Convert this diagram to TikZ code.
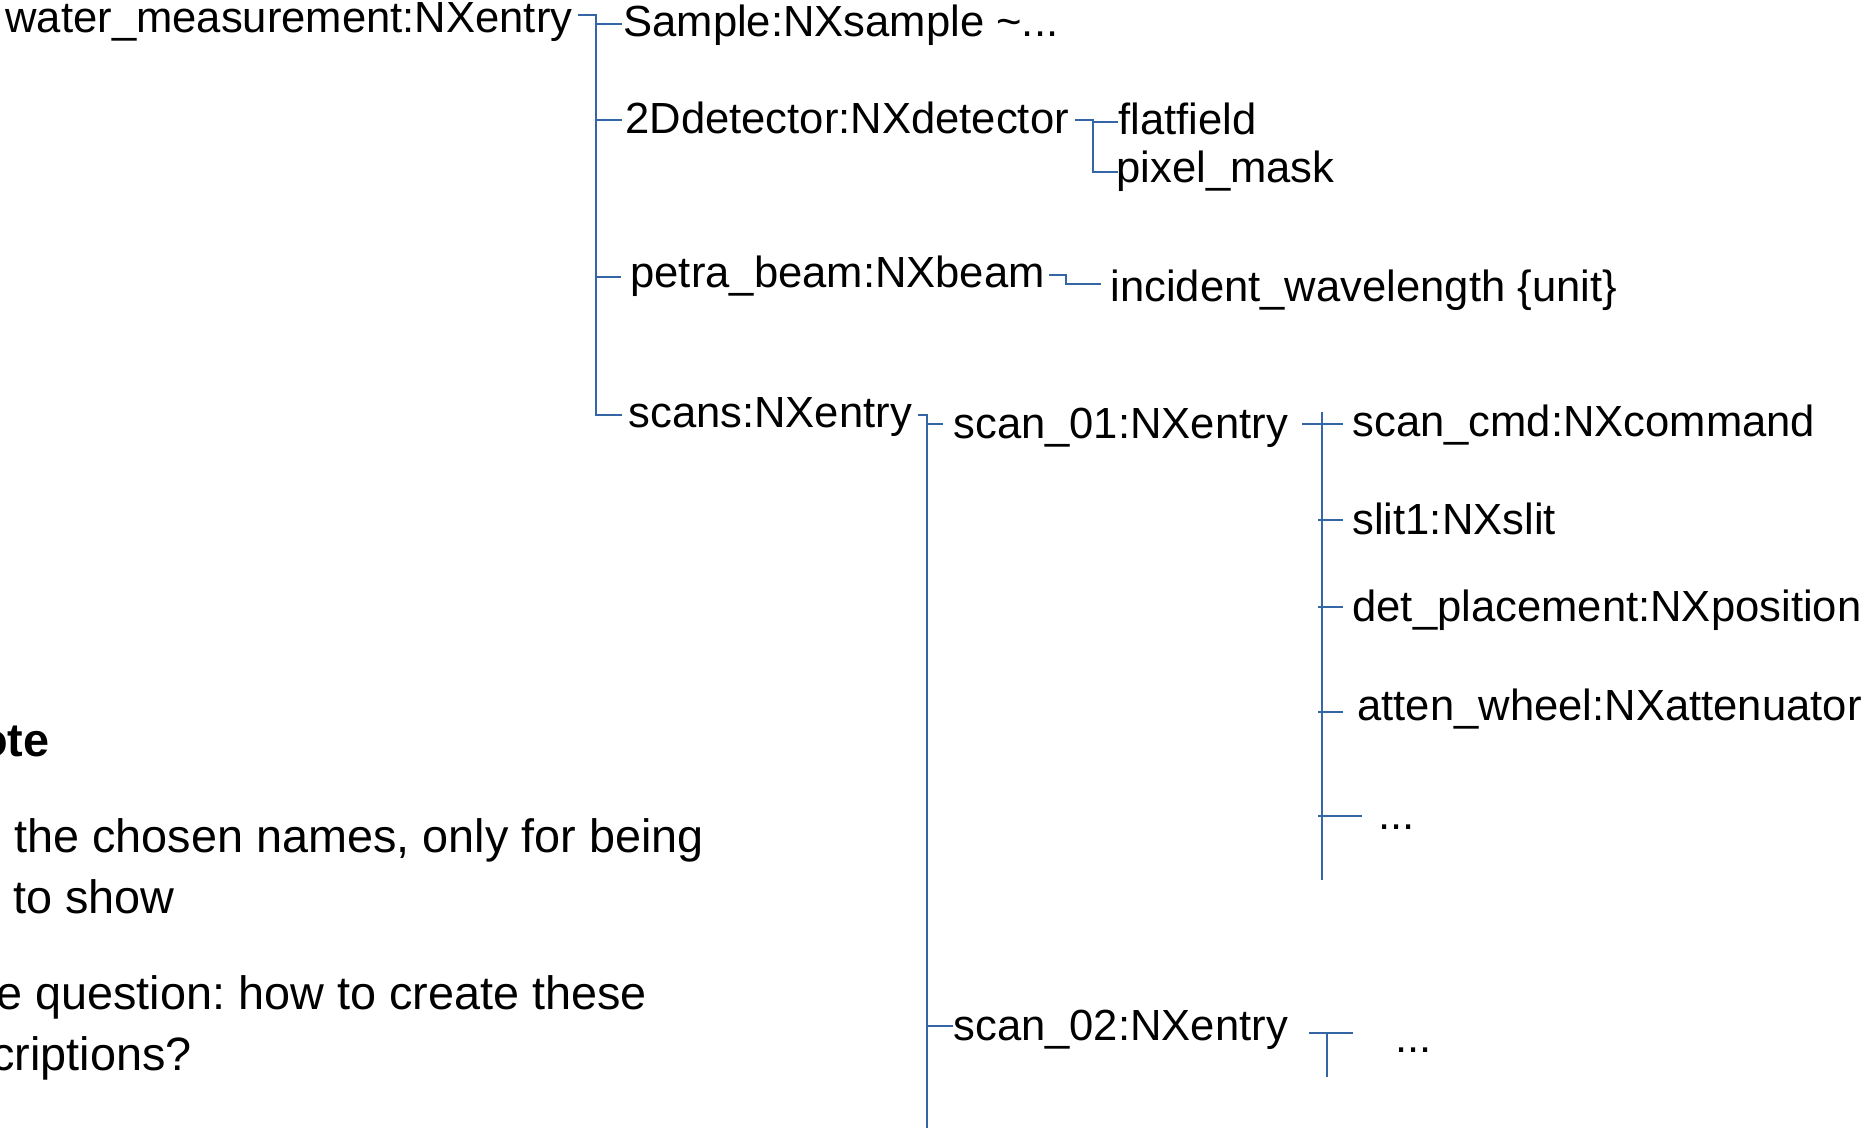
\documentclass[tikz,border=0pt]{standalone}
\usepackage{fontspec}
\setmainfont{Liberation Sans}
\usetikzlibrary{calc}
\definecolor{linkblue}{HTML}{3465A4}
\begin{document}
\frenchspacing
\begin{tikzpicture}[x=0.5pt,y=-0.5pt,
  tree/.style={inner sep=0pt, anchor=base west, font=\fontsize{21.8}{26}\selectfont},
  notetext/.style={inner sep=0pt, anchor=base west, font=\fontsize{23.4}{28}\selectfont},
  link/.style={draw=linkblue, line width=1pt}]
\useasboundingbox (0,0) rectangle (1862,1128);
\clip (0,0) rectangle (1862,1128);
\fill[white] (0,0) rectangle (1862,1128);

% ---- tree entries ----
\node[tree] (root)   at (5,33)     {water\_measurement:NXentry};
\node[tree] (sample) at (623,37)   {Sample:NXsample \textasciitilde...};
\node[tree] (det)    at (625,134)  {2Ddetector:NXdetector};
\node[tree] (flat)   at (1118,135) {flatfield};
\node[tree] (mask)   at (1116,183) {pixel\_mask};
\node[tree] (beam)   at (630,288)  {petra\_beam:NXbeam};
\node[tree] (wave)   at (1110,302) {incident\_wavelength \{unit\}};
\node[tree] (scans)  at (628,428)  {scans:NXentry};
\node[tree] (scanA)  at (953,438)  {scan\_01:NXentry};
\node[tree] (cmd)    at (1352,437) {scan\_cmd:NXcommand};
\node[tree] (slit)   at (1352,534) {slit1:NXslit};
\node[tree] (place)  at (1352,621) {det\_placement:NXposition};
\node[tree] (atten)  at (1357,720) {atten\_wheel:NXattenuator};
\node[tree] (moreA)  at (1378,829) {...};
\node[tree] (scanB)  at (953,1040) {scan\_02:NXentry};
\node[tree] (moreB)  at (1395,1052) {...};

% ---- note text ----
\node[notetext, font=\fontsize{23.4}{28}\selectfont\bfseries] (notehead) at (-21,756) {ote};
\node[notetext] (noteA) at (14,852)  {the chosen names, only for being};
\node[notetext] (noteB) at (13,913)  {to show};
\node[notetext] (noteC) at (-4,1009) {e question: how to create these};
\node[notetext] (noteD) at (-9,1070) {criptions?};

% ---- root level ----
\coordinate (rootstub) at (578,15);
\coordinate (rootbus)  at (596,15);
\coordinate (rootend)  at (596,415);
\coordinate (rb1) at (596,24);
\coordinate (rb2) at (596,120);
\coordinate (rb3) at (596,277);
\draw[link] (rootstub) -- (rootbus) -- (rootend) -- ($(rootend -| scans.west)+(-6,0)$);
\draw[link] (rb1) -- ($(rb1 -| sample.west)+(-1,0)$);
\draw[link] (rb2) -- ($(rb2 -| det.west)+(-3,0)$);
\draw[link] (rb3) -- ($(rb3 -| beam.west)+(-9,0)$);

% ---- detector ----
\coordinate (d0) at (1075,120);
\coordinate (d1) at (1093,120);
\coordinate (d2) at (1093,172);
\coordinate (d3) at (1093,122);
\draw[link] (d0) -- (d1) -- (d2) -- ($(d2 -| mask.west)+(2,0)$);
\draw[link] (d3) -- (d3 -| flat.west);

% ---- beam ----
\coordinate (b0) at (1049,275);
\coordinate (b1) at (1066,275);
\coordinate (b2) at (1066,284);
\draw[link] (b0) -- (b1) -- (b2) -- ($(b2 -| wave.west)+(-9,0)$);

% ---- scans ----
\coordinate (s0) at (918,415);
\coordinate (s1) at (927,415);
\coordinate (s2) at (927,1135);
\coordinate (s3) at (927,424);
\coordinate (s4) at (927,1026);
\draw[link] (s0) -- (s1) -- (s2);
\draw[link] (s3) -- ($(s3 -| scanA.west)+(-10,0)$);
\draw[link] (s4) -- (s4 -| scanB.west);

% ---- scan_01 ----
\coordinate (a0) at (1302,424);
\coordinate (a1) at (1322,412);
\coordinate (a2) at (1322,880);
\coordinate (a3) at (1318,520);
\coordinate (a4) at (1318,607);
\coordinate (a5) at (1318,712);
\coordinate (a6) at (1318,816);
\draw[link] (a0) -- ($(a0 -| cmd.west)+(-9,0)$);
\draw[link] (a1) -- (a2);
\draw[link] (a3) -- ($(a3 -| slit.west)+(-9,0)$);
\draw[link] (a4) -- ($(a4 -| place.west)+(-9,0)$);
\draw[link] (a5) -- ($(a5 -| atten.west)+(-14,0)$);
\draw[link] (a6) -- ($(a6 -| moreA.west)+(-16,0)$);

% ---- scan_02 ----
\coordinate (c0) at (1309,1033);
\coordinate (c1) at (1353,1033);
\coordinate (c2) at (1327,1033);
\coordinate (c3) at (1327,1077);
\draw[link] (c0) -- (c1);
\draw[link] (c2) -- (c3);
\end{tikzpicture}
\end{document}
